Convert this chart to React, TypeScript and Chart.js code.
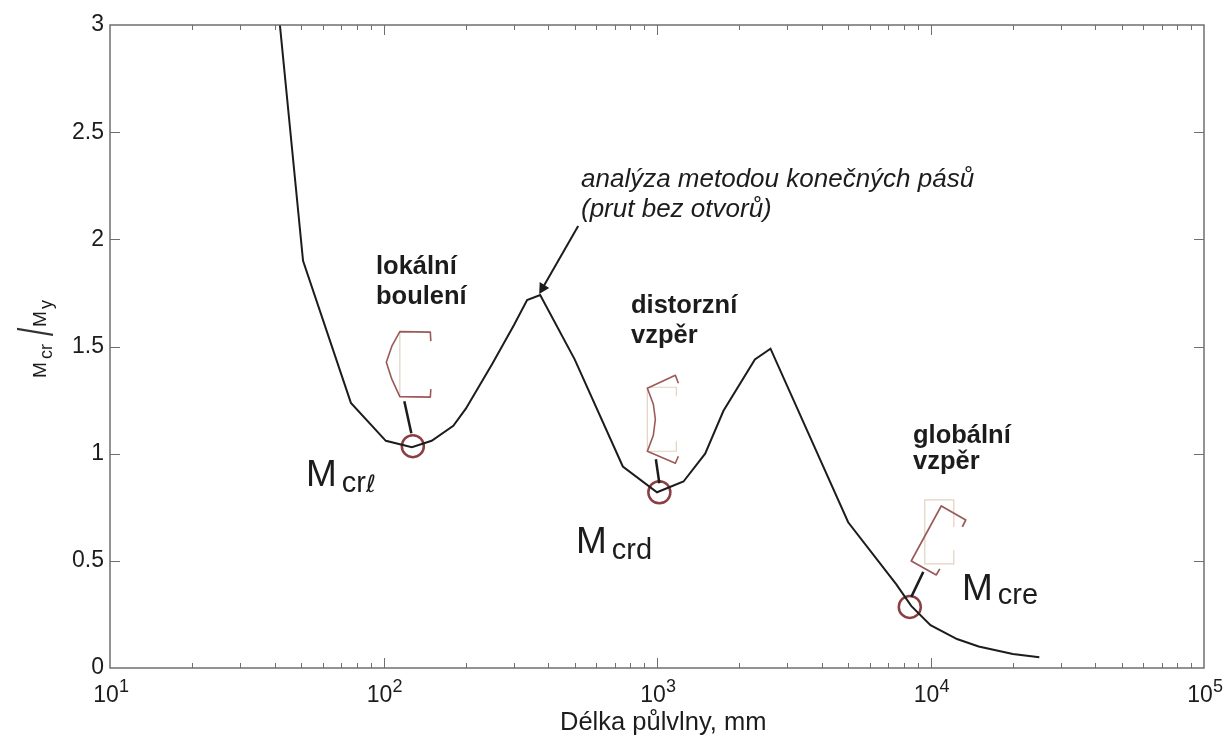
import React, { useEffect, useRef } from "react";
import { Chart, registerables } from "chart.js";

Chart.register(...registerables);

const halfWaveLength = [41.8, 50.8, 76, 102, 127, 150, 180, 200, 250, 300, 335, 374, 500, 750, 1000, 1250, 1500, 1750, 2280, 2600, 5000, 7500, 8500, 10000, 12500, 15000, 20000, 25000];
const momentRatio = [3, 1.9, 1.237, 1.06, 1.03, 1.06, 1.13, 1.21, 1.42, 1.6, 1.717, 1.74, 1.44, 0.94, 0.82, 0.87, 1.0, 1.2, 1.44, 1.49, 0.68, 0.39, 0.29, 0.2, 0.135, 0.1, 0.065, 0.05];
const criticalX = [128, 1020, 8400];
const criticalY = [1.035, 0.82, 0.285];
const yTicks = [0, 0.5, 1, 1.5, 2, 2.5, 3];
const decades = [10, 100, 1000, 10000, 100000];
const minorX = [20, 30, 40, 50, 60, 70, 80, 90, 200, 300, 400, 500, 600, 700, 800, 900, 2000, 3000, 4000, 5000, 6000, 7000, 8000, 9000, 20000, 30000, 40000, 50000, 60000, 70000, 80000, 90000];

const FAMILY = '"Liberation Sans", Arial, sans-serif';
const INK = "#1c1c1c";
const AXIS = "#6f6f6f";
const SECTION = "#9a5a58";
const GHOST = "#e3d2c0";

type P = [number, number];

function poly(ctx: CanvasRenderingContext2D, pts: P[], color: string, width: number) {
  ctx.strokeStyle = color;
  ctx.lineWidth = width;
  ctx.lineJoin = "round";
  ctx.beginPath();
  pts.forEach(([x, y], i) => (i ? ctx.lineTo(x, y) : ctx.moveTo(x, y)));
  ctx.stroke();
}

function label(ctx: CanvasRenderingContext2D, text: string, x: number, y: number, font: string, color = INK) {
  ctx.font = font;
  ctx.fillStyle = color;
  ctx.textAlign = "left";
  ctx.textBaseline = "alphabetic";
  ctx.fillText(text, x, y);
  return ctx.measureText(text).width;
}

const frame = {
  id: "frame",
  afterDatasetsDraw(chart: any) {
    const { ctx, chartArea: a, scales } = chart;
    ctx.save();
    // box and inward ticks, all placed through the scales
    ctx.strokeStyle = AXIS;
    ctx.lineWidth = 1.5;
    ctx.strokeRect(a.left, a.top, a.right - a.left, a.bottom - a.top);
    ctx.lineWidth = 1;
    const tickX = (v: number, len: number) => {
      const x = Math.round(scales.x.getPixelForValue(v)) + 0.5;
      ctx.beginPath();
      ctx.moveTo(x, a.bottom);
      ctx.lineTo(x, a.bottom - len);
      ctx.moveTo(x, a.top);
      ctx.lineTo(x, a.top + len);
      ctx.stroke();
    };
    decades.slice(1, -1).forEach((v) => tickX(v, 10));
    minorX.forEach((v) => tickX(v, 5));
    yTicks.slice(1, -1).forEach((v) => {
      const y = Math.round(scales.y.getPixelForValue(v)) + 0.5;
      ctx.beginPath();
      ctx.moveTo(a.left, y);
      ctx.lineTo(a.left + 10, y);
      ctx.moveTo(a.right, y);
      ctx.lineTo(a.right - 10, y);
      ctx.stroke();
    });

    // exponents of the decade tick labels
    decades.forEach((v) => {
      label(ctx, String(Math.round(Math.log10(v))), scales.x.getPixelForValue(v) + 9, 692, `18px ${FAMILY}`);
    });

    // cross-section sketches, offset in pixels from the critical points
    const anchors: P[] = criticalX.map((v, i) => [scales.x.getPixelForValue(v), scales.y.getPixelForValue(criticalY[i])]);
    const at = (k: number, pts: P[]): P[] => pts.map(([dx, dy]) => [anchors[k][0] + dx, anchors[k][1] + dy]);

    poly(ctx, at(0, [[-13, -115], [-13, -49]]), GHOST, 1.2);
    poly(ctx, at(0, [[18, -105], [17.5, -114], [-13, -114.5], [-21, -100], [-26.5, -84], [-21, -67], [-13, -49.5], [17.5, -49], [18, -57]]), SECTION, 1.6);
    poly(ctx, at(0, [[-8.5, -45], [-1.5, -13]]), INK, 2.5);

    poly(ctx, at(1, [[17, -96], [17, -105], [-12, -105], [-12, -41], [17, -41], [17, -51]]), GHOST, 1.2);
    poly(ctx, at(1, [[19, -109], [16, -117], [-12, -104], [-6, -88], [-4, -73], [-6, -57], [-12, -41], [16, -29], [19, -36]]), SECTION, 1.6);
    poly(ctx, at(1, [[-3.5, -33], [0, -9]]), INK, 2.5);

    poly(ctx, at(2, [[44, -80], [44, -107], [15, -107], [15, -43], [44, -43], [44, -57]]), GHOST, 1.2);
    poly(ctx, at(2, [[52.5, -80], [56, -87], [31.5, -101], [1.5, -46], [26.5, -32], [30, -38]]), SECTION, 1.8);
    poly(ctx, at(2, [[13.5, -35], [1.5, -10]]), INK, 2.5);

    // arrow to the first peak
    const tip: P = [scales.x.getPixelForValue(374) - 1, scales.y.getPixelForValue(1.74) - 1];
    poly(ctx, [[tip[0] + 39, tip[1] - 68], [tip[0] + 4, tip[1] - 7]], INK, 2);
    ctx.fillStyle = INK;
    ctx.beginPath();
    ctx.moveTo(tip[0], tip[1]);
    ctx.lineTo(tip[0] + 0.5, tip[1] - 12);
    ctx.lineTo(tip[0] + 10, tip[1] - 6);
    ctx.closePath();
    ctx.fill();

    // annotations
    const italic = `italic 26px ${FAMILY}`;
    const bold = `bold 25.5px ${FAMILY}`;
    label(ctx, "analýza metodou konečných pásů", 581, 187, italic);
    label(ctx, "(prut bez otvorů)", 581, 217, italic);
    label(ctx, "lokální", 376, 274, bold);
    label(ctx, "boulení", 376, 304, bold);
    label(ctx, "distorzní", 631, 313, bold);
    label(ctx, "vzpěr", 631, 343, bold);
    label(ctx, "globální", 913, 443, bold);
    label(ctx, "vzpěr", 913, 469, bold);

    const big = `37px ${FAMILY}`;
    const sub = `29px ${FAMILY}`;
    let w = label(ctx, "M", 306, 486, big);
    w += label(ctx, "cr", 306 + w + 5, 492, sub) + 5;
    label(ctx, "ℓ", 306 + w, 492, `italic 24px "DejaVu Sans", ${FAMILY}`);
    w = label(ctx, "M", 576, 553, big);
    label(ctx, "crd", 576 + w + 5, 559, sub);
    w = label(ctx, "M", 962, 600, big);
    label(ctx, "cre", 962 + w + 5, 604, sub);

    // x-axis title
    label(ctx, "Délka půlvlny, mm", 560, 730, `25.5px ${FAMILY}`);

    // y-axis title with subscripts
    ctx.translate(46, 378);
    ctx.rotate(-Math.PI / 2);
    label(ctx, "M", 0, 0, `19px ${FAMILY}`);
    label(ctx, "cr", 19, 6, `18px ${FAMILY}`);
    label(ctx, "M", 51, 0, `19px ${FAMILY}`);
    label(ctx, "y", 69, 6, `18px ${FAMILY}`);
    ctx.translate(42, 7);
    ctx.scale(0.6, 1);
    label(ctx, "/", 0, 0, `50px ${FAMILY}`, "#333");
    ctx.restore();
  },
};

export default function App() {
  const ref = useRef<HTMLCanvasElement>(null);
  useEffect(() => {
    const chart = new Chart(ref.current!, {
      type: "line",
      data: {
        datasets: [
          {
            label: "Mcr/My",
            data: halfWaveLength.map((x, i) => ({ x, y: momentRatio[i] })),
            borderColor: INK,
            borderWidth: 2,
            pointRadius: 0,
            tension: 0,
          },
          {
            label: "Kritické body",
            data: criticalX.map((x, i) => ({ x, y: criticalY[i] })),
            showLine: false,
            pointRadius: 11,
            pointBorderWidth: 2.5,
            pointBorderColor: "#8a3f42",
            pointBackgroundColor: "transparent",
          },
        ],
      },
      options: {
        responsive: false,
        animation: false,
        layout: { padding: { top: 25, right: 20, left: 0, bottom: 0 } },
        plugins: { legend: { display: false }, tooltip: { enabled: false } },
        scales: {
          x: {
            type: "logarithmic",
            min: 10,
            max: 100000,
            grid: { display: false, drawTicks: false },
            border: { display: false },
            afterFit: (s: any) => { s.height = 68; s.paddingLeft = 0; s.paddingRight = 0; },
            afterBuildTicks: (s: any) => { s.ticks = decades.map((value) => ({ value, major: true })); },
            ticks: {
              autoSkip: false,
              maxRotation: 0,
              padding: 14,
              labelOffset: -4,
              color: INK,
              font: { family: FAMILY, size: 23 },
              callback: () => "10",
            },
          },
          y: {
            type: "linear",
            min: 0,
            max: 3,
            grid: { display: false, drawTicks: false },
            border: { display: false },
            afterFit: (s: any) => { s.width = 110; s.paddingTop = 0; s.paddingBottom = 0; },
            afterBuildTicks: (s: any) => { s.ticks = yTicks.map((value) => ({ value })); },
            ticks: {
              autoSkip: false,
              padding: 6,
              color: INK,
              font: { family: FAMILY, size: 23 },
              callback: (v: any) => String(v),
            },
          },
        },
      },
      plugins: [frame],
    } as any);
    return () => chart.destroy();
  }, []);
  return (
    <div style={{ position: "fixed", inset: 0, background: "#fff" }}>
      <canvas ref={ref} width={1224} height={736} style={{ display: "block" }} />
    </div>
  );
}
